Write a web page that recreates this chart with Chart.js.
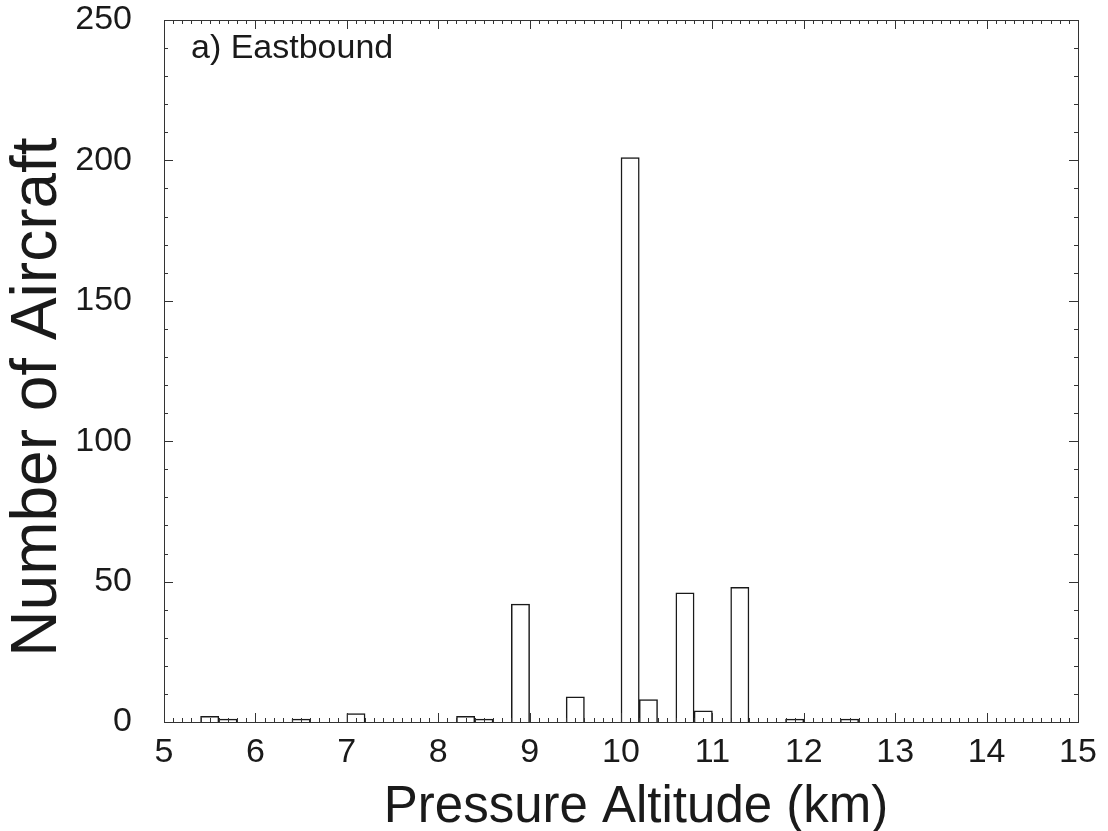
<!DOCTYPE html>
<html>
<head>
<meta charset="utf-8">
<title>Number of Aircraft by Pressure Altitude</title>
<script src="https://cdn.jsdelivr.net/npm/chart.js@4/dist/chart.umd.min.js"></script>
<style>
  html, body { margin: 0; padding: 0; background: #fff; }
  #wrap { width: 1108px; height: 831px; }
</style>
</head>
<body>
<div id="wrap"><canvas id="altChart" width="1108" height="831"></canvas></div>
<script>
// === DATA ===
// 0.2 km bins, keyed by bin centre (km)
var binCentres = [5.5, 5.7, 6.5, 7.1, 8.3, 8.5, 8.9, 9.5, 10.1, 10.3, 10.7, 10.9, 11.3, 11.9, 12.5];
var aircraftCounts = [2, 1, 1, 3, 2, 1, 42, 9, 201, 8, 46, 4, 48, 1, 1];
var xTickValues = [5, 6, 7, 8, 9, 10, 11, 12, 13, 14, 15];
var yTickValues = [0, 50, 100, 150, 200, 250];
var panelLabel = 'a) Eastbound';
var xTitle = 'Pressure Altitude (km)';
var yTitle = 'Number of Aircraft';

var FONT = '"Liberation Sans", Arial, Helvetica, sans-serif';
var INK = '#1a1a1a';

// Box frame with inward ticks on all four sides, panel tag and axis titles
var frameTicks = {
  id: 'frameTicks',
  afterDatasetsDraw: function(chart) {
    var a = chart.chartArea, xs = chart.scales.x, ys = chart.scales.y, ctx = chart.ctx;
    ctx.save();
    ctx.strokeStyle = '#333';
    ctx.lineWidth = 1;
    ctx.strokeRect(Math.round(a.left) + 0.5, Math.round(a.top) + 0.5,
      Math.round(a.right - a.left), Math.round(a.bottom - a.top));

    ctx.beginPath();
    // x: minor every 0.1 km, major on whole km
    for (var k = 50; k <= 150; k++) {
      var px = Math.round(xs.getPixelForValue(k / 10)) + 0.5;
      var len = k % 10 === 0 ? 9 : 4;
      ctx.moveTo(px, a.bottom); ctx.lineTo(px, a.bottom - len);
      ctx.moveTo(px, a.top); ctx.lineTo(px, a.top + len);
    }
    // y: minor every 10, major every 50
    for (var j = 0; j <= 25; j++) {
      var py = Math.round(ys.getPixelForValue(j * 10)) + 0.5;
      var ylen = j % 5 === 0 ? 9 : 4;
      ctx.moveTo(a.left, py); ctx.lineTo(a.left + ylen, py);
      ctx.moveTo(a.right, py); ctx.lineTo(a.right - ylen, py);
    }
    ctx.stroke();

    ctx.fillStyle = INK;
    ctx.font = '34px ' + FONT;
    ctx.textBaseline = 'alphabetic';
    ctx.textAlign = 'left';
    ctx.fillText(panelLabel, a.left + 27, a.top + 38);

    // x title, slightly right of the plot centre
    ctx.font = '51px ' + FONT;
    ctx.textAlign = 'center';
    ctx.fillText(xTitle, (a.left + a.right) / 2 + 15, a.bottom + 100);

    // rotated y title, sits a little below the plot's mid-height
    ctx.font = '64px ' + FONT;
    ctx.translate(56, (a.top + a.bottom) / 2 + 26);
    ctx.rotate(-Math.PI / 2);
    ctx.fillText(yTitle, 0, 0);
    ctx.restore();
  }
};

var points = binCentres.map(function(c, i) { return { x: c, y: aircraftCounts[i] }; });

new Chart(document.getElementById('altChart'), {
  type: 'bar',
  data: {
    datasets: [{
      label: yTitle,
      data: points,
      backgroundColor: '#ffffff',
      borderColor: INK,
      borderWidth: 1.5,
      barPercentage: 1,
      categoryPercentage: 1
    }]
  },
  options: {
    responsive: false,
    animation: false,
    layout: { padding: { left: 0, top: 0, right: 30, bottom: 0 } },
    plugins: { legend: { display: false }, tooltip: { enabled: false } },
    scales: {
      x: {
        type: 'linear', min: 5, max: 15, offset: false,
        grid: { display: false }, border: { display: false },
        afterBuildTicks: function(scale) {
          scale.ticks = xTickValues.map(function(v) { return { value: v }; });
        },
        afterFit: function(scale) {
          scale.height = 109;
          scale.paddingLeft = 0;
          scale.paddingRight = 0;
        },
        ticks: { font: { family: FONT, size: 34 }, color: INK, padding: 2, maxRotation: 0, autoSkip: false }
      },
      y: {
        min: 0, max: 250,
        grid: { display: false }, border: { display: false },
        afterBuildTicks: function(scale) {
          scale.ticks = yTickValues.map(function(v) { return { value: v }; });
        },
        afterFit: function(scale) {
          scale.width = 164;
          // keep the top label from pushing the plot down
          scale.paddingTop = 20;
          scale.paddingBottom = 0;
        },
        ticks: { font: { family: FONT, size: 34 }, color: INK, padding: 24 }
      }
    }
  },
  plugins: [frameTicks]
});
</script>
</body>
</html>
